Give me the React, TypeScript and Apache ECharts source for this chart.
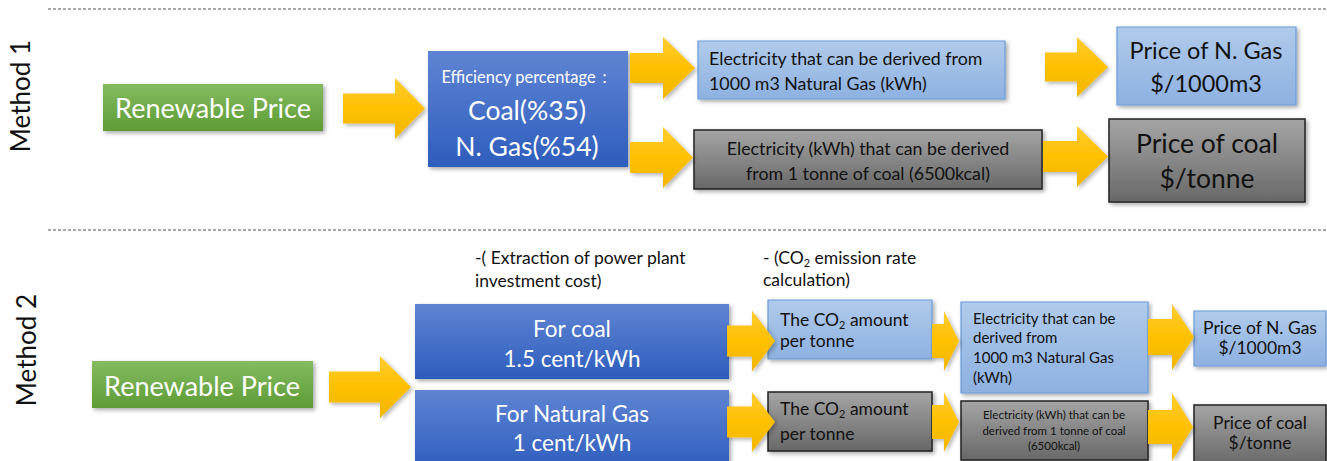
import React, { useEffect, useRef } from "react";
import * as echarts from "echarts";

// ---- texts of the diagram ----
const methodTitles = ["Method 1", "Method 2"];
const startLabel = "Renewable Price";
const efficiencyLines = ["Efficiency percentage：", "Coal(%35)", "N. Gas(%54)"];
const m1GasElectricity = ["Electricity that can be derived from", "1000 m3 Natural Gas (kWh)"];
const m1CoalElectricity = ["Electricity (kWh) that can be derived", "from 1 tonne of coal (6500kcal)"];
const gasPrice = ["Price of N. Gas", "$/1000m3"];
const coalPrice = ["Price of coal", "$/tonne"];
const investmentNote = ["-( Extraction of power plant", "investment cost)"];
const co2Note = ["- (CO", "2", " emission rate", "calculation)"];
const investCoal = ["For coal", "1.5 cent/kWh"];
const investGas = ["For Natural Gas", "1 cent/kWh"];
const co2Amount = ["The CO", "2", " amount", "per tonne"];
const m2GasElectricity = ["Electricity that can be", "derived from", "1000 m3 Natural Gas", "(kWh)"];
const m2CoalElectricity = ["Electricity (kWh) that can be", "derived from 1 tonne of coal", "(6500kcal)"];

const FONT = "Lato, 'Noto Sans', sans-serif";

const grad = (c: string[]) =>
  new echarts.graphic.LinearGradient(0, 0, 0, 1, c.map((color, i) => ({ offset: i / (c.length - 1), color })));

const styles: Record<string, any> = {
  green: { fill: () => grad(["#84bb61", "#5e9c36"]), stroke: null, lw: 0 },
  blue: { fill: () => grad(["#5f84d3", "#2e5dbd"]), stroke: null, lw: 0 },
  light: { fill: () => grad(["#b0cbeb", "#8eb1e1"]), stroke: "#6a9cd8", lw: 1.2 },
  gray: { fill: () => grad(["#a5a5a5", "#686868"]), stroke: "#222222", lw: 1.5 },
};

function box(x: number, y: number, w: number, h: number, kind: string) {
  const s = styles[kind];
  return {
    type: "rect",
    shape: { x, y, width: w, height: h },
    style: {
      fill: s.fill(),
      stroke: s.stroke || undefined,
      lineWidth: s.lw,
      shadowBlur: 4,
      shadowOffsetX: 2,
      shadowOffsetY: 2,
      shadowColor: "rgba(0,0,0,0.35)",
    },
  };
}

function arrow(x0: number, tip: number, hx: number, cy: number, sh: number, hh: number) {
  return {
    type: "polygon",
    shape: {
      points: [
        [x0, cy - sh],
        [hx, cy - sh],
        [hx, cy - hh],
        [tip, cy],
        [hx, cy + hh],
        [hx, cy + sh],
        [x0, cy + sh],
      ],
    },
    style: {
      fill: grad(["#ffcc33", "#ffc000", "#f2b600"]),
      shadowBlur: 4,
      shadowOffsetX: 2,
      shadowOffsetY: 2,
      shadowColor: "rgba(0,0,0,0.3)",
    },
  };
}

function txt(x: number, y: number, text: string, size: number, color: string, align = "center", extra: any = {}) {
  return {
    type: "text",
    x,
    y,
    ...extra,
    style: {
      text,
      fill: color,
      font: `${size}px ${FONT}`,
      fontSize: size,
      fontFamily: FONT,
      align,
      verticalAlign: "middle",
      ...(extra.style || {}),
    },
  };
}

function subText(x: number, y: number, parts: string[], size: number, color: string) {
  return {
    type: "text",
    x,
    y,
    style: {
      text: `{a|${parts[0]}}{s|${parts[1]}}{a|${parts[2]}}`,
      align: "left",
      verticalAlign: "middle",
      rich: {
        a: { fontSize: size, fontFamily: FONT, fill: color, color, verticalAlign: "middle", lineHeight: size * 1.2 },
        s: { fontSize: size * 0.62, fontFamily: FONT, fill: color, color, verticalAlign: "bottom", lineHeight: size * 0.9 },
      },
    },
  };
}

const DARK = "#111111";
const WHITE = "#ffffff";

export default function App() {
  const ref = useRef<HTMLDivElement>(null);
  useEffect(() => {
    if (!ref.current) return;
    const chart = echarts.init(ref.current, undefined, { renderer: "svg" });
    const elements: any[] = [
      // dashed separators
      { type: "line", shape: { x1: 48, y1: 9, x2: 1327, y2: 9 }, style: { stroke: "#555", lineWidth: 1, lineDash: [3, 2] } },
      { type: "line", shape: { x1: 48, y1: 230, x2: 1327, y2: 230 }, style: { stroke: "#555", lineWidth: 1, lineDash: [3, 2] } },
      // method titles
      txt(20, 96, methodTitles[0], 26, DARK, "center", { rotation: Math.PI / 2 }),
      txt(26, 350, methodTitles[1], 26, DARK, "center", { rotation: Math.PI / 2 }),

      // Method 1 boxes
      box(103, 84, 220, 47, "green"),
      box(428, 51, 200, 116, "blue"),
      box(698, 41, 307, 58, "light"),
      box(694, 130, 348, 59, "gray"),
      box(1117, 27, 179, 78, "light"),
      box(1109, 119, 196, 83, "gray"),

      // Method 2 boxes
      box(92, 361, 221, 47, "green"),
      box(415, 304, 314, 75, "blue"),
      box(415, 390, 314, 80, "blue"),
      box(768, 300, 164, 59, "light"),
      box(768, 392, 164, 59, "gray"),
      box(961, 302, 187, 91, "light"),
      box(961, 401, 187, 59, "gray"),
      box(1194, 311, 132, 55, "light"),
      box(1194, 405, 132, 60, "gray"),

      // arrows
      arrow(343, 425, 395, 108.5, 15, 30.5),
      arrow(630, 695, 663, 68, 15, 31),
      arrow(630, 693, 663, 157.5, 15.5, 30.5),
      arrow(1045, 1108, 1077, 67, 14.5, 30),
      arrow(1043, 1108, 1077, 156.5, 15.5, 30.5),
      arrow(329, 411, 380, 387, 15.5, 31),
      arrow(727, 775, 752, 341, 15.5, 30.5),
      arrow(727, 775, 752, 422, 15.5, 30),
      arrow(932, 959, 944, 341, 17, 30),
      arrow(932, 959, 944, 422, 17, 30),
      arrow(1148, 1194, 1172, 337, 18, 33),
      arrow(1148, 1193, 1172, 427, 17, 34),

      // Method 1 texts
      txt(213, 107, startLabel, 27, WHITE),
      txt(527, 77, efficiencyLines[0], 16.5, WHITE),
      txt(527, 110, efficiencyLines[1], 26.5, WHITE),
      txt(527, 146, efficiencyLines[2], 26.5, WHITE),
      txt(709, 58, m1GasElectricity[0], 17.8, DARK, "left"),
      txt(709, 83, m1GasElectricity[1], 17.8, DARK, "left"),
      txt(868, 148, m1CoalElectricity[0], 17.8, DARK),
      txt(868, 173, m1CoalElectricity[1], 17.8, DARK),
      txt(1206, 50, gasPrice[0], 23.5, DARK),
      txt(1206, 83, gasPrice[1], 23.5, DARK),
      txt(1207, 143, coalPrice[0], 26.5, DARK),
      txt(1207, 178, coalPrice[1], 26.5, DARK),

      // Method 2 texts
      txt(475, 257, investmentNote[0], 17.5, DARK, "left"),
      txt(475, 280, investmentNote[1], 17.5, DARK, "left"),
      subText(763, 257, co2Note, 17.5, DARK),
      txt(763, 279, co2Note[3], 17.5, DARK, "left"),
      txt(202, 385, startLabel, 27, WHITE),
      txt(572, 328, investCoal[0], 22.5, WHITE),
      txt(572, 358, investCoal[1], 22.5, WHITE),
      txt(572, 413, investGas[0], 22.5, WHITE),
      txt(572, 442, investGas[1], 22.5, WHITE),
      subText(780, 319, co2Amount, 17.5, DARK),
      txt(780, 340, co2Amount[3], 17.5, DARK, "left"),
      subText(780, 408, co2Amount, 17.5, DARK),
      txt(780, 433, co2Amount[3], 17.5, DARK, "left"),
      txt(973, 318, m2GasElectricity[0], 15, DARK, "left"),
      txt(973, 337, m2GasElectricity[1], 15, DARK, "left"),
      txt(973, 357, m2GasElectricity[2], 15, DARK, "left"),
      txt(973, 377, m2GasElectricity[3], 15, DARK, "left"),
      txt(1054, 414, m2CoalElectricity[0], 11.5, DARK),
      txt(1054, 430, m2CoalElectricity[1], 11.5, DARK),
      txt(1054, 445, m2CoalElectricity[2], 11.5, DARK),
      txt(1260, 327, gasPrice[0], 17.5, DARK),
      txt(1260, 347, gasPrice[1], 17.5, DARK),
      txt(1260, 422, coalPrice[0], 17.5, DARK),
      txt(1260, 442, coalPrice[1], 17.5, DARK),
    ];
    chart.setOption({
      animation: false,
      backgroundColor: "#ffffff",
      graphic: { elements },
    });
    return () => chart.dispose();
  }, []);
  return <div ref={ref} style={{ position: "fixed", left: 0, top: 0, width: 1327, height: 461 }} />;
}
